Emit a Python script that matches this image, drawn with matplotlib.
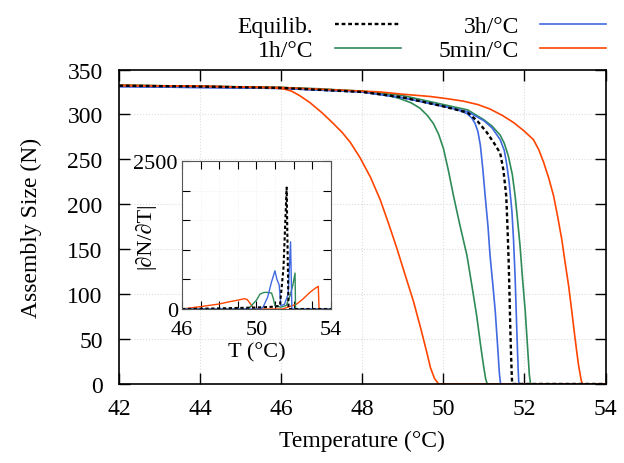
import matplotlib
matplotlib.use("Agg")
import matplotlib.pyplot as plt

# main panel: assembly size vs temperature (two branches per rate)
eq_T = [42, 44, 46, 48, 49, 50, 50.6, 50.85, 51.07, 51.25, 51.4, 51.48, 51.55, 51.58, 51.61,
        51.63, 51.65, 51.67, 51.69, 51.7, 54]
eq_N = [332, 331, 329.5, 325, 319, 309, 302, 292, 280, 268, 257, 238, 209, 175, 135,
        100, 61, 30, 5, 0, 0]

g1_T = [42, 44, 46, 47, 48, 48.5, 48.9, 49.2, 49.42, 49.6, 49.75, 49.88, 50.0, 50.12, 50.25,
        50.4, 50.58, 50.7, 50.82, 50.92, 50.99, 51.04, 51.08, 54]
g1_N = [332.5, 331.5, 330, 328.5, 325.5, 322.5, 318, 313, 307, 299, 290, 278, 262, 238, 209,
        178, 143, 110, 76, 42, 20, 6, 0, 0]
g2_T = [42, 46, 48, 49, 50, 50.6, 51.0, 51.2, 51.4, 51.5, 51.6, 51.7, 51.77, 51.83, 51.89,
        51.95, 52.02, 52.08, 52.12, 52.15, 54]
g2_N = [332.5, 330, 326, 321, 311, 305, 294, 287, 277, 268, 254, 233, 209, 182, 154,
        118, 80, 38, 10, 0, 0]

b1_T = [42, 46, 48, 49, 49.6, 50, 50.3, 50.58, 50.7, 50.78, 50.85, 50.91, 50.97, 51.03, 51.1,
        51.15, 51.22, 51.28, 51.34, 51.38, 51.41, 54]
b1_N = [331, 329, 325, 318.5, 313, 309, 306, 301, 296, 290, 281, 266, 240, 209, 175,
        143, 110, 80, 40, 12, 0, 0]
b2_T = [42, 46, 48, 49, 50, 50.6, 51.0, 51.2, 51.4, 51.5, 51.56, 51.62, 51.69, 51.73, 51.77,
        51.81, 51.84, 51.86, 54]
b2_N = [331, 329, 325, 318.5, 309, 303, 293, 285, 272, 260, 245, 225, 192, 160, 117,
        60, 20, 0, 0]

o1_T = [42, 44, 45.5, 45.8, 46.05, 46.25, 46.45, 46.71, 47.0, 47.28, 47.5, 47.7, 47.94, 48.2,
        48.44, 48.65, 48.85, 49.05, 49.26, 49.45, 49.59, 49.68, 49.78, 49.88, 54]
o1_N = [332, 331.5, 330, 329.5, 328.5, 326, 321, 313, 302, 290, 280, 269, 252, 230,
        205, 178, 151, 122, 92, 60, 35, 18, 6, 0, 0]
o2_T = [42, 46, 47, 48, 48.44, 49, 49.67, 50.1, 50.49, 50.85, 51.15, 51.45, 51.73, 51.98, 52.22,
        52.35, 52.47, 52.6, 52.72, 52.82, 52.92, 53.0, 53.09, 53.17, 53.25, 53.33, 53.4, 53.43, 54]
o2_N = [332.5, 330, 328, 326, 325, 322.5, 320, 317.5, 314.8, 311, 306, 299, 291, 282, 272,
        261, 247, 229, 209, 186, 161, 136, 109, 80, 50, 22, 4, 0, 0]

# inset: |dN/dT|
d_eq_T = [46, 48, 50, 51.0, 51.26, 51.45, 51.62, 51.66, 51.72, 54]
d_eq_N = [0, 10, 25, 40, 56, 700, 2056, 1200, 0, 0]
d_g_T = [46, 49.4, 49.65, 50.0, 50.19, 50.4, 50.55, 50.81, 50.9, 50.99, 51.3, 51.6, 51.8, 51.95,
         52.07, 52.1, 54]
d_g_N = [0, 0, 30, 150, 253, 280, 282, 270, 180, 56, 30, 60, 225, 400, 608, 0, 0]
d_b_T = [46, 50.2, 50.35, 50.6, 50.8, 50.99, 51.1, 51.22, 51.31, 51.5, 51.7, 51.83, 51.9, 54]
d_b_N = [0, 0, 30, 200, 450, 647, 500, 405, 56, 80, 250, 1137, 0, 0]
d_o_T = [46.0, 46.5, 47.0, 48.0, 48.5, 49.0, 49.35, 49.5, 49.74, 49.85, 51.4, 52.16, 52.5, 52.87,
         53.15, 53.32, 53.36, 54]
d_o_N = [0, 20, 40, 85, 120, 150, 175, 160, 60, 0, 0, 84, 170, 282, 350, 383, 0, 0]

labels = ['Equilib.', '1h/°C', '3h/°C', '5min/°C']

c_eq = 'black'
c_g = '#2e8b57'
c_b = '#4169e1'
c_o = '#ff4500'

plt.rcParams['font.family'] = ['Liberation Serif', 'DejaVu Serif']
plt.rcParams['mathtext.default'] = 'regular'

fig = plt.figure(figsize=(6.24, 4.64), dpi=100)
ax = fig.add_axes([0.1912, 0.1703, 0.7792, 0.6777])

lw = 1.2
dash = (0, (1.6, 1.2))
ax.plot(g1_T, g1_N, color=c_g, lw=lw)
ax.plot(g2_T, g2_N, color=c_g, lw=lw)
ax.plot(b1_T, b1_N, color=c_b, lw=lw)
ax.plot(b2_T, b2_N, color=c_b, lw=lw)
ax.plot(o1_T, o1_N, color=c_o, lw=lw)
ax.plot(o2_T, o2_N, color=c_o, lw=lw)
ax.plot(eq_T, eq_N, color=c_eq, lw=1.7, linestyle=dash)

ax.set_xlim(42, 54)
ax.set_ylim(0, 350)
ax.set_xticks(range(42, 55, 2))
ax.set_yticks(range(0, 351, 50))
ax.tick_params(direction='in', top=True, right=True, length=8, width=1, labelsize=17)
ax.tick_params(axis='x', pad=10)
ax.tick_params(axis='y', pad=12)
ax.grid(True, color='#dddddd', linestyle=':', linewidth=0.8)
for s in ax.spines.values():
    s.set_linewidth(1.2)
ax.set_xlabel('Temperature (°C)', fontsize=17, labelpad=8)
ax.set_ylabel('Assembly Size (N)', fontsize=17, labelpad=18)

# legend in the top margin, gnuplot style (text then sample)
h = [plt.Line2D([], [], color=c_eq, lw=1.7, linestyle=dash),
     plt.Line2D([], [], color=c_g, lw=lw),
     plt.Line2D([], [], color=c_b, lw=lw),
     plt.Line2D([], [], color=c_o, lw=lw)]
fig.legend(h, labels, ncol=2, loc='upper right', bbox_to_anchor=(0.998, 1.0),
           frameon=False, markerfirst=False, fontsize=17, handlelength=2.8,
           handletextpad=0.9, columnspacing=1.6, labelspacing=0.12, borderpad=0.2)

# inset
ins = fig.add_axes([0.2917, 0.3319, 0.2387, 0.3183])
ins.plot(d_o_T, d_o_N, color=c_o, lw=1.0)
ins.plot(d_g_T, d_g_N, color=c_g, lw=1.0)
ins.plot(d_b_T, d_b_N, color=c_b, lw=1.0)
ins.plot(d_eq_T, d_eq_N, color=c_eq, lw=1.5, linestyle=dash)
ins.set_xlim(46, 54)
ins.set_ylim(0, 2500)
ins.set_xticks(range(46, 55))
ins.set_xticklabels(['46', '', '', '', '50', '', '', '', '54'])
ins.set_yticks(range(0, 2501, 500))
ins.set_yticklabels(['0', '', '', '', '', '2500'])
ins.tick_params(direction='in', top=True, right=True, length=6, width=0.8, labelsize=16)
ins.tick_params(axis='x', pad=8)
ins.tick_params(axis='y', pad=3)
ins.grid(True, color='#eeeeee', linestyle=':', linewidth=0.6)
for s in ins.spines.values():
    s.set_linewidth(0.8)
    s.set_color('#555555')
ins.set_xlabel('T (°C)', fontsize=16, labelpad=2)
ins.set_ylabel('|∂N/∂T|', fontsize=16, labelpad=-16)

fig.savefig('out.png', dpi=100)
